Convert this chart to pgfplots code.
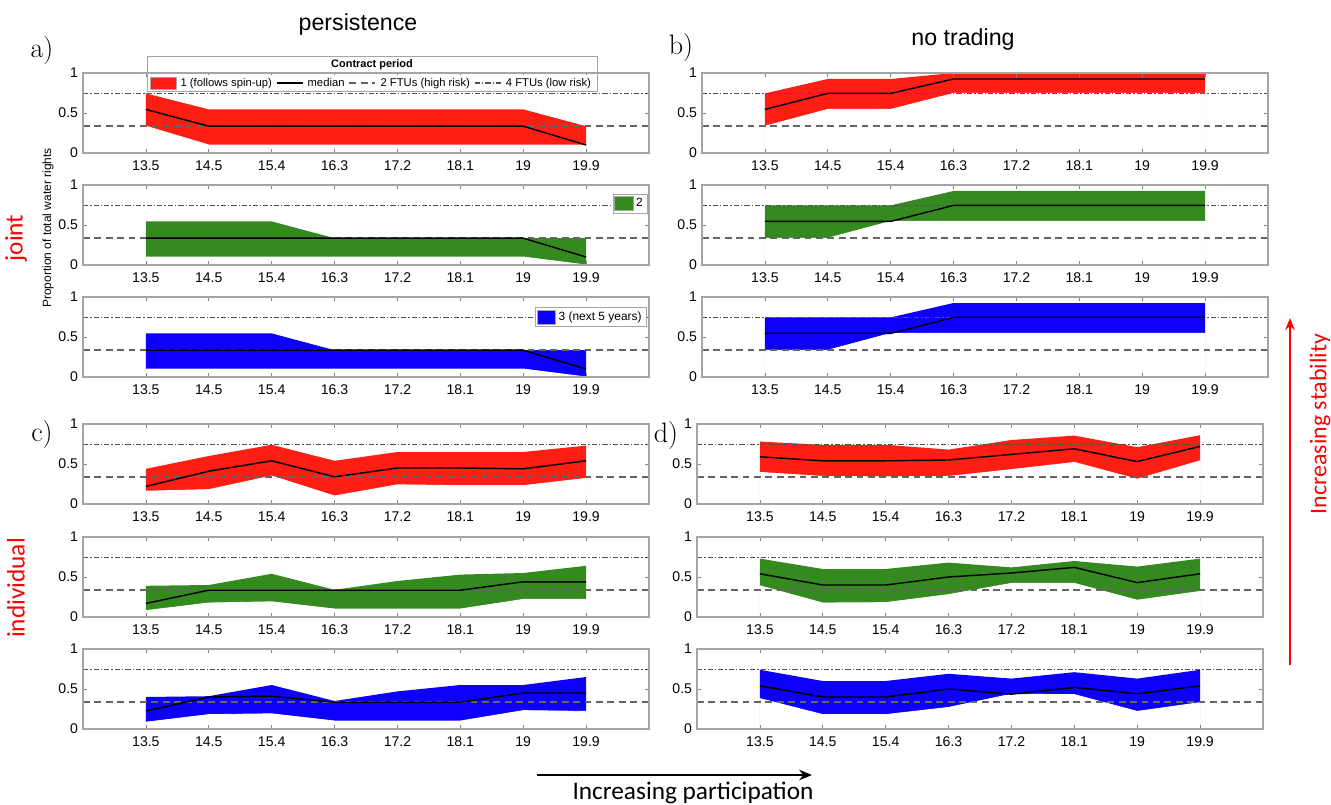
\documentclass[border=0pt]{standalone}
\usepackage{pgfplots}
\usepackage{pgfplotstable}
\usepackage{fontspec}
\pgfplotsset{compat=1.18}
\usetikzlibrary{arrows.meta}
\newfontfamily\arial{Liberation Sans}
\newfontfamily\calibri{Carlito}
\definecolor{bandred}{RGB}{255,30,20}
\definecolor{bandgreen}{RGB}{52,138,30}
\definecolor{bandblue}{RGB}{12,0,250}
\definecolor{refgray}{RGB}{100,100,100}
\definecolor{framegray}{RGB}{165,165,165}

% picture laid out in source pixels, 1px = 0.25mm
\newcommand\px[1]{#1*0.25mm}
\newcommand\py[1]{-#1*0.25mm}

% persistence, joint
\pgfplotstableread{
x lo med hi
1 0.335 0.545 0.745
2 0.10 0.335 0.545
3 0.10 0.335 0.545
4 0.10 0.335 0.545
5 0.10 0.335 0.545
6 0.10 0.335 0.545
7 0.10 0.335 0.545
8 0.10 0.10 0.335
}\tAr
\pgfplotstableread{
x lo med hi
1 0.10 0.335 0.545
2 0.10 0.335 0.545
3 0.10 0.335 0.545
4 0.10 0.335 0.335
5 0.10 0.335 0.335
6 0.10 0.335 0.335
7 0.10 0.335 0.335
8 0.00 0.10 0.335
}\tAg
\pgfplotstableread{
x lo med hi
1 0.10 0.335 0.545
2 0.10 0.335 0.545
3 0.10 0.335 0.545
4 0.10 0.335 0.335
5 0.10 0.335 0.335
6 0.10 0.335 0.335
7 0.10 0.335 0.335
8 0.00 0.10 0.335
}\tAb
% no trading, joint
\pgfplotstableread{
x lo med hi
1 0.335 0.545 0.745
2 0.545 0.745 0.925
3 0.545 0.745 0.925
4 0.745 0.925 1.0
5 0.745 0.925 1.0
6 0.745 0.925 1.0
7 0.745 0.925 1.0
8 0.745 0.925 1.0
}\tBr
\pgfplotstableread{
x lo med hi
1 0.335 0.545 0.745
2 0.335 0.545 0.745
3 0.545 0.545 0.745
4 0.545 0.745 0.925
5 0.545 0.745 0.925
6 0.545 0.745 0.925
7 0.545 0.745 0.925
8 0.545 0.745 0.925
}\tBg
\pgfplotstableread{
x lo med hi
1 0.335 0.545 0.745
2 0.335 0.545 0.745
3 0.545 0.545 0.745
4 0.545 0.745 0.925
5 0.545 0.745 0.925
6 0.545 0.745 0.925
7 0.545 0.745 0.925
8 0.545 0.745 0.925
}\tBb
% persistence, individual
\pgfplotstableread{
x lo med hi
1 0.16 0.22 0.44
2 0.18 0.41 0.60
3 0.35 0.54 0.74
4 0.10 0.34 0.54
5 0.24 0.45 0.65
6 0.23 0.45 0.65
7 0.23 0.44 0.65
8 0.32 0.54 0.73
}\tCr
\pgfplotstableread{
x lo med hi
1 0.08 0.17 0.39
2 0.175 0.335 0.40
3 0.19 0.335 0.54
4 0.10 0.335 0.34
5 0.10 0.335 0.45
6 0.10 0.335 0.53
7 0.22 0.44 0.55
8 0.22 0.44 0.64
}\tCg
\pgfplotstableread{
x lo med hi
1 0.085 0.225 0.40
2 0.18 0.40 0.41
3 0.19 0.41 0.55
4 0.10 0.335 0.35
5 0.10 0.335 0.47
6 0.10 0.335 0.55
7 0.23 0.45 0.55
8 0.22 0.45 0.65
}\tCb
% no trading, individual
\pgfplotstableread{
x lo med hi
1 0.395 0.59 0.78
2 0.345 0.54 0.74
3 0.34 0.54 0.74
4 0.345 0.55 0.68
5 0.43 0.62 0.80
6 0.52 0.69 0.855
7 0.31 0.53 0.71
8 0.54 0.72 0.86
}\tDr
\pgfplotstableread{
x lo med hi
1 0.39 0.54 0.73
2 0.175 0.40 0.60
3 0.18 0.40 0.60
4 0.28 0.50 0.68
5 0.42 0.55 0.62
6 0.42 0.62 0.70
7 0.21 0.43 0.63
8 0.32 0.54 0.73
}\tDg
\pgfplotstableread{
x lo med hi
1 0.38 0.54 0.74
2 0.18 0.40 0.60
3 0.18 0.40 0.60
4 0.27 0.50 0.69
5 0.435 0.435 0.63
6 0.43 0.52 0.71
7 0.22 0.44 0.63
8 0.33 0.54 0.74
}\tDb

\pgfplotsset{
  panel/.style={
    scale only axis, width=141.5mm, height=20mm, anchor=south west,
    xmin=0, xmax=9, ymin=0, ymax=1,
    xtick={1,...,8}, xticklabels={13.5,14.5,15.4,16.3,17.2,18.1,19,19.9},
    ytick={0,0.5,1}, yticklabels={0,0.5,1},
    axis on top,
    axis line style={draw=framegray, line width=0.8pt},
    major tick style={draw=framegray!80!black, line width=0.5pt},
    tick align=inside, major tick length=1.1mm,
    /pgf/number format/assume math mode=true,
    tick label style={font=\arial\fontsize{10}{12}\selectfont},
    xticklabel style={yshift=-0.8mm},
    legend style={draw=framegray, fill=white, inner sep=1pt,
      font=\arial\fontsize{8.5}{10}\selectfont},
  },
  lowline/.style={refgray, line width=1.2pt, dash pattern=on 1.7mm off 1.15mm},
  highline/.style={black!68, line width=1.1pt, dash pattern=on 1.3mm off 0.5mm on 0.35mm off 0.5mm},
  linelegend/.style={legend image code/.code={\draw[##1] (0mm,0mm) -- (6.5mm,0mm);}},
}

% #2,#3 lower left corner of the box in source pixels
\newcommand\panel[6][]{%
  \begin{axis}[panel, at={(\px{#2},\py{#3})}, #1]
    \addplot[fill=#5, draw=none, forget plot] table[x=x, y=hi] {#4} \closedcycle;
    \addplot[fill=white, draw=white, line width=0.6pt, forget plot] table[x=x, y=lo] {#4} \closedcycle;
    \addplot[lowline, forget plot] coordinates {(0,0.335) (9,0.335)};
    \addplot[highline, forget plot] coordinates {(0,0.745) (9,0.745)};
    \addplot[black, line width=1pt, forget plot] table[x=x, y=med] {#4};
    #6
  \end{axis}}

\begin{document}
\begin{tikzpicture}
\useasboundingbox (0,0) rectangle (\px{1331},\py{805});

% contract period legend frame and title
\draw[framegray, line width=0.6pt] (\px{147},\py{56}) rectangle (\px{597},\py{91});
\node[font=\arial\bfseries\fontsize{7.8}{9}\selectfont] at (\px{372},\py{65}) {Contract period};

% left column: persistence
\panel[legend columns=4,
  legend style={at={(0.51,0.875)}, anchor=center, draw=none, inner sep=0.3pt,
    font=\arial\fontsize{8}{9.5}\selectfont,
    /tikz/every even column/.append style={column sep=0.3mm},
    /tikz/every odd column/.append style={column sep=0.4mm}}]
  {83}{153}{\tAr}{bandred}{%
  \addlegendimage{legend image code/.code={\draw[fill=bandred, draw=gray!70] (0mm,-1.5mm) rectangle (6.5mm,1.5mm);}}
  \addlegendentry{1 (follows spin-up)}
  \addlegendimage{black, line width=1pt, linelegend}
  \addlegendentry{median}
  \addlegendimage{lowline, linelegend}
  \addlegendentry{2 FTUs (high risk)}
  \addlegendimage{highline, linelegend}
  \addlegendentry{4 FTUs (low risk)}
}
\panel[legend style={at={(0.997,0.77)}, anchor=east}]
  {83}{265}{\tAg}{bandgreen}{%
  \addlegendimage{legend image code/.code={\draw[fill=bandgreen, draw=gray!70] (0mm,-1.7mm) rectangle (4.6mm,1.7mm);}}
  \addlegendentry{2}
}
\panel[legend style={at={(0.995,0.75)}, anchor=east}]
  {83}{377}{\tAb}{bandblue}{%
  \addlegendimage{legend image code/.code={\draw[fill=bandblue, draw=gray!70] (0mm,-1.7mm) rectangle (4.6mm,1.7mm);}}
  \addlegendentry{3 (next 5 years)}
}
\panel{83}{504}{\tCr}{bandred}{}
\panel{83}{617}{\tCg}{bandgreen}{}
\panel{83}{729}{\tCb}{bandblue}{}

% right column: no trading
\panel{702}{153}{\tBr}{bandred}{}
\panel{702}{265}{\tBg}{bandgreen}{}
\panel{702}{377}{\tBb}{bandblue}{}
\panel{697}{504}{\tDr}{bandred}{}
\panel{697}{617}{\tDg}{bandgreen}{}
\panel{697}{729}{\tDb}{bandblue}{}

% titles and annotations
\node[font=\arial\fontsize{16.5}{18}\selectfont] at (\px{358},\py{25}) {persistence};
\node[font=\arial\fontsize{16.5}{18}\selectfont] at (\px{963},\py{40}) {no trading};
\node[font=\fontsize{20}{22}\selectfont] at (\px{42},\py{50}) {a)};
\node[font=\fontsize{20}{22}\selectfont] at (\px{681},\py{47}) {b)};
\node[font=\fontsize{20}{22}\selectfont] at (\px{42},\py{434}) {c)};
\node[font=\fontsize{20}{22}\selectfont] at (\px{666},\py{435}) {d)};
\node[rotate=90, font=\arial\fontsize{8.5}{10}\selectfont] at (\px{48},\py{228}) {Proportion of total water rights};
\node[rotate=90, text=red, font=\calibri\fontsize{18}{20}\selectfont] at (\px{16},\py{238}) {joint};
\node[rotate=90, text=red, font=\calibri\fontsize{18}{20}\selectfont] at (\px{16},\py{588}) {individual};
\draw[red, line width=1.2pt, -{Stealth[length=3mm, width=2.4mm]}] (\px{1290},\py{665}) -- (\px{1290},\py{318});
\node[rotate=90, text=red, font=\calibri\fontsize{17}{19}\selectfont] at (\px{1320},\py{424}) {Increasing stability};
\draw[black, line width=1.5pt, -{Stealth[length=3.2mm, width=2.6mm]}] (\px{537},\py{775}) -- (\px{812},\py{775});
\node[font=\calibri\fontsize{18}{20}\selectfont] at (\px{693},\py{793}) {Increasing participation};
\end{tikzpicture}
\end{document}
